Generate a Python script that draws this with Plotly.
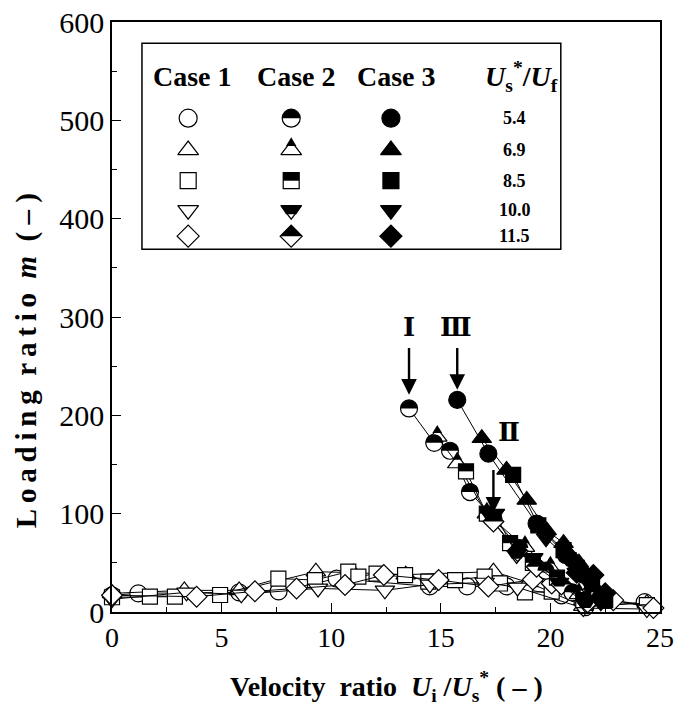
import math
import plotly.graph_objects as go

# ---------------- data ----------------
ratio_labels = ["5.4", "6.9", "8.5", "10.0", "11.5"]
case_labels = ["Case 1", "Case 2", "Case 3"]
symbols = ["circle", "triangle-up", "square", "triangle-down", "diamond"]
sizes = [17, 17, 15, 17, 16]

# Case 1 (open markers)
c1_circle_x = [0.0, 1.2, 5.8, 7.6, 10.25, 14.5, 16.2, 18.0, 20.5, 21.6, 24.3]
c1_circle_y = [17, 19, 20, 21, 34, 26, 26, 26, 17, 5, 10]
c1_tri_x = [0.0, 3.3, 5.8, 9.3, 11.0, 13.4, 17.4, 19.0, 21.5, 24.4]
c1_tri_y = [19, 22, 22, 41, 40, 38, 41, 30, 6, 9]
c1_square_x = [0.0, 1.73, 2.87, 4.93, 7.59, 9.26, 10.78, 11.24, 12.07, 13.37, 14.43, 15.65, 17.0, 17.7, 18.84, 20.06, 24.4]
c1_square_y = [15, 15.6, 15.6, 17.3, 34, 32.5, 41, 36, 39, 37.6, 30.8, 32.5, 36, 29, 20, 20.7, 7]
c1_tridown_x = [0.0, 3.4, 5.9, 9.4, 12.45, 14.5, 17.0, 18.5, 21.5, 24.4]
c1_tridown_y = [13, 20, 18, 24, 22, 28, 30, 25, 4, 3]
c1_diamond_x = [0.0, 3.86, 6.52, 8.42, 10.63, 12.4, 14.9, 17.17, 19.2, 20.06, 21.7, 22.87, 24.7]
c1_diamond_y = [17, 15.6, 21, 24, 27.5, 37.6, 32.5, 26, 33, 29, 17, 12, 4]

# Case 2 (half-filled markers)
c2_circle_x = [13.55, 14.7, 15.42, 16.33, 17.4, 18.6, 19.8, 21.0]
c2_circle_y = [207, 172, 164, 122, 95, 65, 42, 20]
c2_tri_x = [14.84, 15.75, 17.1, 18.84, 20.0, 21.3]
c2_tri_y = [178, 151, 100, 66, 45, 18]
c2_square_x = [16.15, 17.1, 18.16, 19.2, 20.3, 21.5]
c2_square_y = [143, 100, 70, 50, 35, 12]
c2_tridown_x = [17.3, 17.47, 18.46, 19.22, 20.4, 21.6]
c2_tridown_y = [97, 100, 58, 55, 30, 8]
c2_diamond_x = [17.4, 18.5, 19.37, 20.5, 21.7]
c2_diamond_y = [92, 62, 46, 28, 10]

# Case 3 (filled markers)
c3_circle_x = [15.75, 17.17, 19.37, 20.7, 21.5, 22.3]
c3_circle_y = [215.7, 161, 90, 58, 38, 15]
c3_tri_x = [16.87, 18.0, 18.92, 19.83, 20.6, 21.3, 22.0]
c3_tri_y = [176.7, 144.5, 114, 83, 70, 50, 25]
c3_square_x = [18.3, 19.45, 20.6, 21.2, 21.9, 22.5]
c3_square_y = [139.4, 88, 63, 45, 30, 12]
c3_tridown_x = [19.8, 20.74, 21.2, 21.8, 22.3]
c3_tridown_y = [75, 56, 40, 28, 10]
c3_diamond_x = [20.9, 21.2, 21.96, 22.5]
c3_diamond_y = [55, 40, 37.6, 19]

case1 = [(c1_circle_x, c1_circle_y), (c1_tri_x, c1_tri_y), (c1_square_x, c1_square_y),
         (c1_tridown_x, c1_tridown_y), (c1_diamond_x, c1_diamond_y)]
case2 = [(c2_circle_x, c2_circle_y), (c2_tri_x, c2_tri_y), (c2_square_x, c2_square_y),
         (c2_tridown_x, c2_tridown_y), (c2_diamond_x, c2_diamond_y)]
case3 = [(c3_circle_x, c3_circle_y), (c3_tri_x, c3_tri_y), (c3_square_x, c3_square_y),
         (c3_tridown_x, c3_tridown_y), (c3_diamond_x, c3_diamond_y)]

# arrows: label, head x, head y, tail y, label position
arrow_labels = ["Ⅰ", "Ⅲ", "Ⅱ"]
arrow_x = [13.55, 15.75, 17.4]
arrow_head_y = [221, 226, 101]
arrow_tail_y = [270, 270, 146]
label_x = [13.55, 15.7, 18.1]
label_y = [290, 290, 183]

# ---------------- helpers ----------------
SERIF = "Liberation Serif"
THIN = "\u2009"
NB = "\u00a0"


def spaced(word):
    return THIN.join(word)


def half_path(sym, size):
    """Top half of a plotly marker symbol, pixel coords (y up)."""
    r = size / 2.0
    if sym == "circle":
        k = 0.5523 * r
        return (f"M{-r:.2f},0 C{-r:.2f},{k:.2f} {-k:.2f},{r:.2f} 0,{r:.2f} "
                f"C{k:.2f},{r:.2f} {r:.2f},{k:.2f} {r:.2f},0 Z")
    if sym == "square":
        return f"M{-r:.2f},0 L{-r:.2f},{r:.2f} L{r:.2f},{r:.2f} L{r:.2f},0 Z"
    if sym == "diamond":
        rd = 1.3 * r
        return f"M{-rd:.2f},0 L0,{rd:.2f} L{rd:.2f},0 Z"
    rt = 2 * r / math.sqrt(3)
    r2 = r / 2
    rs = r * math.sqrt(2)
    if sym == "triangle-up":
        mid = (rs - r2) / 2
        w = rt * (rs - mid) / (rs + r2)
        return f"M{-w:.2f},{mid:.2f} L0,{rs:.2f} L{w:.2f},{mid:.2f} Z"
    mid = (r2 - rs) / 2
    w = rt * (mid + rs) / (rs + r2)
    return (f"M{-rt:.2f},{r2:.2f} L{rt:.2f},{r2:.2f} L{w:.2f},{mid:.2f} "
            f"L{-w:.2f},{mid:.2f} Z")


fig = go.Figure()
shapes = []


def add_series(xs, ys, sym, size, fill, xaxis="x", yaxis="y", line=True):
    fig.add_trace(go.Scatter(
        x=xs, y=ys, mode="lines+markers" if line else "markers",
        xaxis=xaxis, yaxis=yaxis,
        line=dict(color="black", width=1),
        marker=dict(symbol=sym, size=size, color=fill,
                    line=dict(color="black", width=1.2)),
        cliponaxis=False, showlegend=False, hoverinfo="skip"))


def add_halves(xs, ys, sym, size, xref="x", yref="y"):
    for xv, yv in zip(xs, ys):
        shapes.append(dict(type="path", xref=xref, yref=yref,
                           xsizemode="pixel", ysizemode="pixel",
                           xanchor=xv, yanchor=yv,
                           path=half_path(sym, size),
                           fillcolor="black", line=dict(width=0),
                           layer="above"))


for i, (xs, ys) in enumerate(case1):
    add_series(xs, ys, symbols[i], sizes[i], "white")
for i, (xs, ys) in enumerate(case2):
    add_series(xs, ys, symbols[i], sizes[i], "white")
    add_halves(xs, ys, symbols[i], sizes[i])
for i, (xs, ys) in enumerate(case3):
    add_series(xs, ys, symbols[i], sizes[i], "black")

# ---------------- legend table (own 0-1 axes) ----------------
col_x = [0.139, 0.327, 0.509]
head_x = [0.146, 0.336, 0.520]
val_x = 0.735
ratio_head_x = 0.748
row_y = [0.837, 0.783, 0.731, 0.681, 0.637]
head_y = 0.907
for i in range(5):
    add_series([col_x[0]], [row_y[i]], symbols[i], sizes[i] + 1, "white", "x2", "y2", False)
    add_series([col_x[1]], [row_y[i]], symbols[i], sizes[i] + 1, "white", "x2", "y2", False)
    add_halves([col_x[1]], [row_y[i]], symbols[i], sizes[i] + 1, "x2", "y2")
    add_series([col_x[2]], [row_y[i]], symbols[i], sizes[i] + 1, "black", "x2", "y2", False)

annotations = []
for j, name in enumerate(case_labels):
    annotations.append(dict(x=head_x[j], y=head_y, xref="paper", yref="paper",
                            xanchor="center", yanchor="middle",
                            text=f"<b>{name}</b>", showarrow=False,
                            font=dict(family=SERIF, size=28, color="black")))
annotations.append(dict(x=ratio_head_x, y=head_y, xref="paper", yref="paper",
                        xanchor="center", yanchor="middle",
                        text="<b><i>U</i><sub>s</sub><sup>*</sup>/<i>U</i><sub>f</sub></b>",
                        showarrow=False,
                        font=dict(family=SERIF, size=28, color="black")))
for i, lab in enumerate(ratio_labels):
    annotations.append(dict(x=val_x, y=row_y[i], xref="paper", yref="paper",
                            xanchor="center", yanchor="middle",
                            text=f"<b>{lab}</b>", showarrow=False,
                            font=dict(family=SERIF, size=18, color="black")))

shapes.append(dict(type="rect", xref="paper", yref="paper",
                   x0=0.0547, x1=0.819, y0=0.615, y1=0.964,
                   line=dict(color="black", width=1.5), fillcolor="rgba(0,0,0,0)",
                   layer="below"))

# arrows and labels
for k in range(3):
    annotations.append(dict(x=arrow_x[k], y=arrow_head_y[k], ax=arrow_x[k],
                            ay=arrow_tail_y[k], xref="x", yref="y", axref="x",
                            ayref="y", text="", showarrow=True, arrowhead=2,
                            arrowwidth=2.4, arrowsize=1.3, arrowcolor="black",
                            standoff=0, startstandoff=0))
    annotations.append(dict(x=label_x[k], y=label_y[k], xref="x", yref="y",
                            xanchor="center", yanchor="middle",
                            text=f"<b>{arrow_labels[k]}</b>", showarrow=False,
                            font=dict(family="DejaVu Serif", size=26,
                                      color="black")))

# axis titles
ytitle = ("<b>" + spaced("Loading") + NB * 2 + spaced("ratio") + NB * 2
          + "<i>m</i>" + NB * 2 + "(" + NB + "–" + NB + ")</b>")
xtitle = ("<b>" + "Velocity" + NB * 2 + "ratio" + NB * 2
          + "<i>U</i><sub>i</sub>" + NB + "/<i>U</i><sub>s</sub><sup>*</sup>"
          + NB + "(" + NB + "–" + NB + ")</b>")
annotations.append(dict(x=0, y=0.425, xref="paper", yref="paper", xshift=-86,
                        xanchor="center", yanchor="middle",
                        text=ytitle, textangle=-90, showarrow=False,
                        font=dict(family=SERIF, size=29, color="black")))
annotations.append(dict(x=0.5, y=0, xref="paper", yref="paper", yshift=-74,
                        xanchor="center", yanchor="middle",
                        text=xtitle, showarrow=False,
                        font=dict(family=SERIF, size=28, color="black")))

axis_common = dict(ticks="inside", ticklen=9, tickwidth=1.2, tickcolor="black",
                   showgrid=False, zeroline=False, showline=True,
                   linecolor="black", linewidth=1.5, mirror=True,
                   automargin=False)

fig.update_layout(
    width=674, height=708,
    margin=dict(l=112, r=14, t=22, b=96),
    plot_bgcolor="white", paper_bgcolor="white",
    shapes=shapes, annotations=annotations,
    xaxis=dict(range=[0, 25], dtick=5, tick0=0,
               minor=dict(dtick=2.5, ticks="inside", ticklen=5, tickcolor="black",
                          showgrid=False),
               tickfont=dict(family=SERIF, size=28, color="black"),
               **axis_common),
    yaxis=dict(range=[0, 600], dtick=100, tick0=0,
               minor=dict(dtick=50, ticks="inside", ticklen=5, tickcolor="black",
                          showgrid=False),
               tickfont=dict(family=SERIF, size=30, color="black"),
               **axis_common),
    xaxis2=dict(range=[0, 1], overlaying="x", anchor="y2", visible=False),
    yaxis2=dict(range=[0, 1], overlaying="y", anchor="x2", visible=False),
)

fig.write_html("out.html")
